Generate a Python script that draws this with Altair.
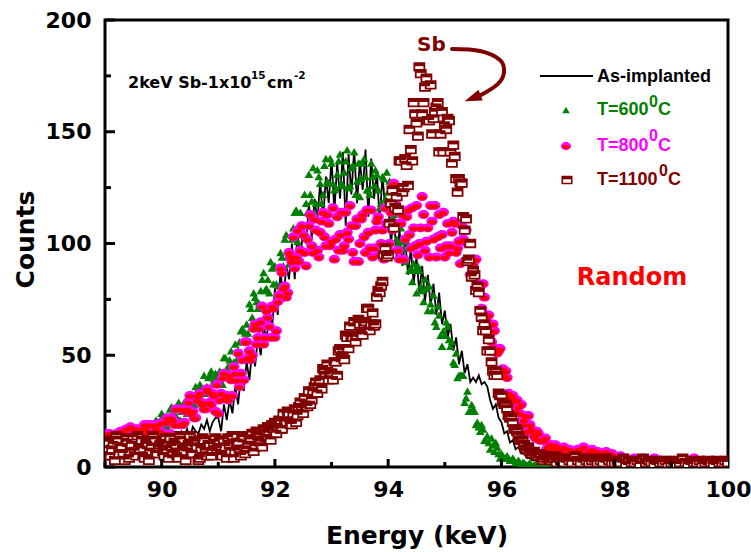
import altair as alt
import pandas as pd

# ---------------- data ----------------
energy = [
    89.00, 89.05, 89.10, 89.15, 89.20, 89.25, 89.30, 89.35, 89.40, 89.45, 89.50, 89.55, 89.60, 89.65, 89.70, 89.75, 89.80, 89.85, 89.90, 89.95,
    90.00, 90.05, 90.10, 90.15, 90.20, 90.25, 90.30, 90.35, 90.40, 90.45, 90.50, 90.55, 90.60, 90.65, 90.70, 90.75, 90.80, 90.85, 90.90, 90.95,
    91.00, 91.05, 91.10, 91.15, 91.20, 91.25, 91.30, 91.35, 91.40, 91.45, 91.50, 91.55, 91.60, 91.65, 91.70, 91.75, 91.80, 91.85, 91.90, 91.95,
    92.00, 92.05, 92.10, 92.15, 92.20, 92.25, 92.30, 92.35, 92.40, 92.45, 92.50, 92.55, 92.60, 92.65, 92.70, 92.75, 92.80, 92.85, 92.90, 92.95,
    93.00, 93.05, 93.10, 93.15, 93.20, 93.25, 93.30, 93.35, 93.40, 93.45, 93.50, 93.55, 93.60, 93.65, 93.70, 93.75, 93.80, 93.85, 93.90, 93.95,
    94.00, 94.05, 94.10, 94.15, 94.20, 94.25, 94.30, 94.35, 94.40, 94.45, 94.50, 94.55, 94.60, 94.65, 94.70, 94.75, 94.80, 94.85, 94.90, 94.95,
    95.00, 95.05, 95.10, 95.15, 95.20, 95.25, 95.30, 95.35, 95.40, 95.45, 95.50, 95.55, 95.60, 95.65, 95.70, 95.75, 95.80, 95.85, 95.90, 95.95,
    96.00, 96.05, 96.10, 96.15, 96.20, 96.25, 96.30, 96.35, 96.40, 96.45, 96.50, 96.55, 96.60, 96.65, 96.70, 96.75, 96.80, 96.85, 96.90, 96.95,
    97.00, 97.05, 97.10, 97.15, 97.20, 97.25, 97.30, 97.35, 97.40, 97.45, 97.50, 97.55, 97.60, 97.65, 97.70, 97.75, 97.80, 97.85, 97.90, 97.95,
    98.00, 98.05, 98.10, 98.15, 98.20, 98.25, 98.30, 98.35, 98.40, 98.45, 98.50, 98.55, 98.60, 98.65, 98.70, 98.75, 98.80, 98.85, 98.90, 98.95,
    99.00, 99.05, 99.10, 99.15, 99.20, 99.25, 99.30, 99.35, 99.40, 99.45, 99.50, 99.55, 99.60, 99.65, 99.70, 99.75, 99.80, 99.85, 99.90, 99.95,
    100.00,
]

# second, interleaved set of channels (the scatter series are denser than the line)
energy_mid = [
    89.025, 89.075, 89.125, 89.175, 89.225, 89.275, 89.325, 89.375, 89.425, 89.475, 89.525, 89.575, 89.625, 89.675, 89.725, 89.775, 89.825, 89.875, 89.925, 89.975,
    90.025, 90.075, 90.125, 90.175, 90.225, 90.275, 90.325, 90.375, 90.425, 90.475, 90.525, 90.575, 90.625, 90.675, 90.725, 90.775, 90.825, 90.875, 90.925, 90.975,
    91.025, 91.075, 91.125, 91.175, 91.225, 91.275, 91.325, 91.375, 91.425, 91.475, 91.525, 91.575, 91.625, 91.675, 91.725, 91.775, 91.825, 91.875, 91.925, 91.975,
    92.025, 92.075, 92.125, 92.175, 92.225, 92.275, 92.325, 92.375, 92.425, 92.475, 92.525, 92.575, 92.625, 92.675, 92.725, 92.775, 92.825, 92.875, 92.925, 92.975,
    93.025, 93.075, 93.125, 93.175, 93.225, 93.275, 93.325, 93.375, 93.425, 93.475, 93.525, 93.575, 93.625, 93.675, 93.725, 93.775, 93.825, 93.875, 93.925, 93.975,
    94.025, 94.075, 94.125, 94.175, 94.225, 94.275, 94.325, 94.375, 94.425, 94.475, 94.525, 94.575, 94.625, 94.675, 94.725, 94.775, 94.825, 94.875, 94.925, 94.975,
    95.025, 95.075, 95.125, 95.175, 95.225, 95.275, 95.325, 95.375, 95.425, 95.475, 95.525, 95.575, 95.625, 95.675, 95.725, 95.775, 95.825, 95.875, 95.925, 95.975,
    96.025, 96.075, 96.125, 96.175, 96.225, 96.275, 96.325, 96.375, 96.425, 96.475, 96.525, 96.575, 96.625, 96.675, 96.725, 96.775, 96.825, 96.875, 96.925, 96.975,
]

as_implanted = [
    6, 9, 5, 8, 7, 10, 6, 8, 9, 7, 8, 6, 10, 7, 9, 8, 11, 7, 9, 10,
    12, 9, 14, 11, 13, 15, 12, 16, 14, 17, 13, 18, 16, 15, 19, 17, 21, 16, 20, 22,
    22, 16, 28, 21, 30, 24, 36, 28, 41, 34, 47, 39, 53, 45, 58, 50, 64, 56, 70, 62,
    80, 68, 88, 74, 90, 84, 100, 84, 106, 92, 108, 100, 118, 102, 120, 110, 128, 110, 130, 118,
    138, 114, 136, 120, 141, 108, 140, 122, 142, 118, 137, 124, 142, 112, 138, 120, 132, 110, 131, 114,
    118, 100, 112, 94, 106, 90, 102, 86, 98, 82, 94, 78, 90, 74, 86, 72, 82, 68, 78, 64,
    70, 58, 64, 52, 58, 46, 52, 42, 46, 38, 40, 38, 41, 37, 38, 36, 30, 26, 28, 22,
    20, 15, 16, 11, 12, 8, 9, 6, 6, 4, 4, 3, 3, 2, 2, 2, 1, 2, 1, 1,
    1, 2, 1, 1, 2, 1, 0, 1, 2, 1, 1, 0, 1, 1, 2, 1, 0, 1, 1, 0,
    1, 1, 0, 2, 1, 1, 0, 1, 1, 2, 0, 1, 1, 0, 1, 2, 1, 0, 1, 1,
    0, 1, 1, 2, 1, 0, 1, 1, 0, 2, 1, 1, 0, 1, 1, 0, 2, 1, 1, 0,
    1,
]

t600 = [
    12, 8, 12, 14, 10, 9, 14, 12, 11, 16, 12, 15, 11, 17, 14, 18, 14, 17, 21, 17,
    24, 20, 18, 26, 24, 23, 29, 25, 29, 24, 32, 29, 36, 31, 36, 41, 36, 41, 37, 42,
    41, 38, 49, 44, 48, 41, 55, 52, 61, 56, 64, 73, 67, 76, 71, 79, 87, 80, 78, 89,
    90, 77, 96, 90, 104, 91, 102, 114, 101, 114, 104, 118, 131, 119, 114, 133, 127, 122, 138, 127,
    136, 124, 131, 140, 126, 137, 125, 134, 141, 128, 121, 136, 130, 124, 136, 126, 131, 116, 130, 120,
    123, 126, 113, 102, 110, 101, 92, 99, 89, 91, 78, 88, 79, 84, 70, 73, 77, 63, 68, 54,
    59, 63, 54, 47, 51, 41, 41, 29, 34, 25, 26, 19, 18, 19, 12, 14, 8, 10, 11, 6,
    6, 4, 5, 3, 4, 2, 3, 1, 2, 1, 2, 0, 1, 1, 0, 1, 1, 0, 1, 0,
    1, 0, 2, 1, 0, 1, 3, 1, 0, 1, 2, 0, 1, 1, 0, 2, 1, 0, 1, 1,
    0, 1, 1, 0, 2, 1, 0, 1, 0, 1, 1, 0, 2, 1, 0, 1, 0, 1, 1, 0,
    1, 0, 1, 2, 0, 1, 0, 1, 1, 0, 1, 0, 1, 2, 0, 1, 0, 1, 0, 1,
    1,
]
t600_mid = [
    7, 11, 14, 10, 9, 14, 11, 12, 16, 11, 14, 11, 16, 15, 18, 14, 14, 18, 20, 18,
    23, 19, 22, 27, 21, 26, 21, 28, 27, 32, 28, 28, 34, 37, 35, 33, 40, 43, 39, 39,
    43, 37, 49, 45, 52, 47, 48, 56, 62, 60, 60, 71, 78, 74, 73, 84, 79, 84, 92, 82,
    82, 81, 94, 102, 94, 91, 107, 115, 106, 105, 122, 114, 122, 134, 118, 130, 118, 135, 128, 138,
    127, 125, 137, 127, 132, 142, 126, 135, 122, 136, 129, 138, 124, 122, 130, 133, 124, 118, 129, 132,
    128, 111, 114, 100, 107, 98, 101, 88, 83, 88, 90, 81, 74, 80, 81, 70, 65, 72, 59, 61,
    65, 57, 56, 46, 40, 41, 41, 31, 25, 28, 25, 20, 16, 17, 12, 11, 13, 7, 9, 4,
    5, 4, 4, 3, 3, 2, 2, 2, 1, 1, 1, 1, 0, 1, 0, 1, 0, 1, 0, 0,
]

t800 = [
    15, 11, 14, 10, 15, 13, 16, 12, 14, 18, 13, 17, 13, 17, 19, 15, 13, 19, 17, 15,
    20, 15, 22, 15, 21, 26, 19, 26, 20, 26, 32, 25, 22, 32, 29, 26, 35, 29, 33, 25,
    24, 33, 42, 32, 41, 32, 42, 51, 42, 39, 56, 52, 50, 64, 58, 65, 55, 70, 63, 72,
    58, 74, 89, 80, 76, 96, 92, 89, 106, 97, 104, 90, 108, 99, 111, 97, 105, 114, 99, 109,
    101, 93, 112, 104, 97, 114, 102, 108, 92, 111, 100, 113, 96, 105, 115, 98, 110, 95, 106, 116,
    97, 114, 127, 109, 93, 113, 102, 115, 98, 107, 117, 100, 121, 97, 107, 117, 102, 94, 113, 104,
    94, 109, 99, 110, 96, 101, 108, 92, 100, 86, 91, 93, 80, 71, 76, 68, 60, 64, 53, 52,
    43, 41, 40, 31, 32, 25, 27, 28, 21, 16, 19, 16, 13, 15, 12, 12, 8, 10, 8, 10,
    8, 7, 9, 6, 8, 7, 6, 8, 7, 9, 6, 7, 8, 6, 7, 5, 6, 7, 5, 6,
    4, 3, 5, 3, 4, 2, 3, 4, 2, 3, 4, 3, 2, 3, 4, 2, 3, 2, 3, 2,
    2, 3, 2, 1, 3, 2, 2, 3, 4, 1, 2, 3, 2, 1, 2, 3, 2, 1, 2, 3,
    3,
]
t800_mid = [
    12, 15, 11, 14, 10, 16, 14, 17, 12, 13, 16, 17, 14, 13, 17, 19, 15, 15, 19, 16,
    13, 20, 13, 22, 19, 26, 19, 19, 25, 29, 24, 22, 30, 33, 28, 26, 34, 28, 32, 37,
    30, 40, 31, 30, 39, 45, 39, 36, 48, 56, 49, 48, 62, 55, 62, 72, 58, 67, 58, 71,
    61, 77, 87, 81, 78, 94, 103, 94, 92, 108, 96, 102, 113, 96, 106, 94, 110, 103, 113, 99,
    116, 102, 97, 114, 99, 105, 117, 96, 108, 92, 111, 103, 115, 98, 94, 106, 112, 100, 93, 109,
    100, 106, 118, 97, 109, 93, 112, 104, 116, 99, 95, 107, 113, 101, 94, 110, 117, 103, 98, 114,
    99, 96, 105, 109, 98, 91, 102, 106, 92, 85, 93, 82, 81, 82, 66, 68, 56, 61, 51, 53,
    44, 43, 33, 29, 30, 30, 24, 19, 23, 23, 17, 14, 16, 12, 12, 13, 9, 10, 6, 9,
]

t1100 = [
    8, 12, 5, 10, 14, 6, 9, 3, 11, 7, 13, 5, 9, 12, 4, 10, 7, 14, 6, 9,
    11, 5, 8, 13, 6, 10, 4, 12, 7, 9, 14, 6, 11, 3, 8, 12, 5, 10, 7, 13,
    9, 6, 12, 4, 10, 14, 7, 11, 5, 13, 8, 12, 15, 9, 14, 11, 17, 13, 16, 19,
    20, 18, 17, 24, 20, 24, 19, 26, 23, 29, 24, 28, 34, 30, 36, 33, 39, 44, 41, 39,
    42, 47, 41, 53, 50, 59, 53, 58, 65, 59, 64, 59, 65, 71, 64, 63, 76, 78, 83, 98,
    95, 118, 107, 121, 137, 123, 138, 126, 142, 163, 154, 179, 158, 170, 155, 171, 156, 161, 141, 159,
    153, 156, 141, 144, 129, 129, 127, 106, 92, 100, 88, 79, 78, 67, 64, 52, 52, 43, 43, 33,
    32, 28, 26, 22, 20, 17, 14, 12, 10, 8, 7, 6, 6, 5, 5, 4, 5, 3, 4, 5,
    4, 3, 2, 4, 3, 2, 5, 3, 2, 4, 3, 2, 3, 4, 2, 3, 2, 4, 3, 2,
    2, 3, 2, 4, 1, 3, 2, 2, 3, 1, 4, 2, 3, 2, 1, 3, 2, 2, 3, 1,
    2, 3, 1, 2, 4, 2, 1, 3, 2, 2, 3, 1, 2, 3, 2, 1, 3, 2, 2, 3,
    2,
]
t1100_mid = [
    5, 11, 8, 3, 12, 9, 6, 13, 4, 10, 7, 14, 8, 5, 11, 3, 9, 12, 6, 10,
    7, 13, 4, 9, 11, 5, 14, 8, 3, 10, 6, 12, 9, 4, 13, 7, 10, 5, 11, 8,
    12, 5, 9, 13, 7, 4, 11, 8, 14, 6, 10, 13, 7, 16, 12, 9, 15, 18, 12, 17,
    15, 21, 17, 20, 25, 19, 24, 20, 27, 26, 31, 27, 28, 34, 38, 36, 35, 43, 46, 42,
    39, 47, 52, 49, 48, 58, 63, 58, 56, 66, 60, 64, 71, 61, 69, 64, 79, 81, 95, 94,
    109, 124, 116, 115, 137, 125, 135, 151, 137, 158, 148, 176, 163, 174, 155, 149, 159, 163, 149, 141,
    151, 155, 136, 139, 123, 127, 112, 111, 93, 85, 86, 81, 70, 61, 61, 57, 47, 41, 41, 32,
    29, 28, 23, 22, 17, 16, 12, 12, 8, 9, 6, 7, 5, 6, 3, 5, 4, 3, 4, 2,
]

x_major = [90, 92, 94, 96, 98, 100]
x_minor = [89, 91, 93, 95, 97, 99]
y_major = [0, 50, 100, 150, 200]
y_minor = [25, 75, 125, 175]

# annotation arrow (data coordinates)
arrow_E = [95.127, 95.621, 95.974, 96.045, 95.939, 95.639]
arrow_C = [187.0, 186.1, 182.1, 176.7, 171.4, 166.4]

# legend entries
legend_labels = ["As-implanted", "T=600", "T=800", "T=1100"]
legend_colors = ["#000000", "#008000", "#FF00FF", "#800000"]

# ---------------- styling ----------------
W, H = 623, 447
BLACK, GREEN, MAGENTA, RED, DARKRED = "#000000", "#008000", "#FF00FF", "#FF0000", "#800000"
FONT = "DejaVu Sans"
LFONT = "Liberation Sans"

RECT = "M-1,-0.75L1,-0.75L1,0.75L-1,0.75Z"
RECT_TOP = "M-1,-0.75L1,-0.75L1,-0.15L-1,-0.15Z"
ELLIPSE = ("M-1,0 C-1,-0.45 -0.55,-0.8 0,-0.8 C0.55,-0.8 1,-0.45 1,0 "
           "C1,0.45 0.55,0.8 0,0.8 C-0.55,0.8 -1,0.45 -1,0 Z")
RED_CORE = ("M-0.75,0.2 C-0.75,-0.05 -0.41,-0.25 0,-0.25 C0.41,-0.25 0.75,-0.05 0.75,0.2 "
            "C0.75,0.45 0.41,0.65 0,0.65 C-0.41,0.65 -0.75,0.45 -0.75,0.2 Z")
ARROWHEAD = "M0,-1L0.65,0.9L-0.65,0.9Z"

xs = alt.Scale(domain=[89, 100], nice=False, zero=False)
ys = alt.Scale(domain=[0, 200], nice=False, zero=True)

x_axis = alt.Axis(values=x_major, title="Energy (keV)", format="d",
                  labelFont=FONT, labelFontWeight="bold", labelFontSize=22, labelColor=BLACK,
                  labelPadding=12, labelFlush=False, labelOverlap=False,
                  ticks=False, tickSize=0, domain=False, grid=False,
                  titleFont=FONT, titleFontWeight="bold", titleFontSize=25, titleColor=BLACK,
                  titleX=W / 2, titleY=76, titleAlign="center", titleBaseline="alphabetic")
y_axis = alt.Axis(values=y_major, title="Counts", format="d",
                  labelFont=FONT, labelFontWeight="bold", labelFontSize=22, labelColor=BLACK,
                  labelPadding=14, labelFlush=False, labelOverlap=False,
                  ticks=False, tickSize=0, domain=False, grid=False,
                  titleFont=FONT, titleFontWeight="bold", titleFontSize=25, titleColor=BLACK,
                  titleX=-72, titleY=219, titleAngle=270, titleAlign="center",
                  titleBaseline="alphabetic")

X = alt.X("E:Q", scale=xs, axis=x_axis)
Y = alt.Y("C:Q", scale=ys, axis=y_axis)


def frame(vals):
    return pd.DataFrame({"E": energy, "C": vals})


def dense(vals, mid_vals):
    return pd.concat([pd.DataFrame({"E": energy, "C": vals}),
                      pd.DataFrame({"E": energy_mid, "C": mid_vals})]).sort_values("E")


black_line = alt.Chart(frame(as_implanted)).mark_line(
    color=BLACK, strokeWidth=1.8, clip=True).encode(x=X, y=Y)

green_pts = alt.Chart(dense(t600, t600_mid)).mark_point(
    shape="triangle-up", filled=True, color=GREEN, size=75, opacity=1, clip=True).encode(x=X, y=Y)

d800 = dense(t800, t800_mid)
mag_pts = alt.Chart(d800).mark_point(
    shape=ELLIPSE, filled=True, color=MAGENTA, size=125, opacity=1, clip=True).encode(x=X, y=Y)
mag_core = alt.Chart(d800).mark_point(
    shape=RED_CORE, filled=True, color=RED, size=125, opacity=1, clip=True).encode(x=X, y=Y)

d1100 = dense(t1100, t1100_mid)
sq_pts = alt.Chart(d1100).mark_point(
    shape=RECT, filled=True, fill="white", stroke=DARKRED, strokeWidth=1.8,
    size=100, opacity=1, clip=True).encode(x=X, y=Y)
sq_top = alt.Chart(d1100).mark_point(
    shape=RECT_TOP, filled=True, color=DARKRED, size=100, opacity=1, clip=True).encode(x=X, y=Y)

# inward tick marks
ytick_major = alt.Chart(pd.DataFrame({"C": y_major})).mark_rule(
    color=BLACK, strokeWidth=3).encode(x=alt.value(0), x2=alt.value(10), y=Y)
ytick_minor = alt.Chart(pd.DataFrame({"C": y_minor})).mark_rule(
    color=BLACK, strokeWidth=3).encode(x=alt.value(0), x2=alt.value(6), y=Y)
xtick_major = alt.Chart(pd.DataFrame({"E": x_major[:-1]})).mark_rule(
    color=BLACK, strokeWidth=3).encode(x=X, y=alt.value(H), y2=alt.value(H - 8))
xtick_minor = alt.Chart(pd.DataFrame({"E": x_minor})).mark_rule(
    color=BLACK, strokeWidth=3).encode(x=X, y=alt.value(H), y2=alt.value(H - 5))


def note(e, c, txt, size, color, font=FONT):
    return alt.Chart(pd.DataFrame({"E": [e], "C": [c], "t": [txt]})).mark_text(
        align="left", baseline="middle", font=font, fontWeight="bold",
        fontSize=size, color=color).encode(x=X, y=Y, text="t:N")


dose_main = note(89.406, 171.8, "2keV Sb-1x10", 16, BLACK)
dose_sup1 = note(91.578, 174.8, "15", 10.5, BLACK)
dose_cm = note(91.860, 171.8, "cm", 16, BLACK)
dose_sup2 = note(92.337, 174.8, "-2", 10.5, BLACK)
sb_text = note(94.51, 188.8, "Sb", 20, DARKRED)
random_text = note(97.33, 84.6, "Random", 24, RED)

arrow_line = alt.Chart(pd.DataFrame({"E": arrow_E, "C": arrow_C, "i": list(range(len(arrow_E)))})).mark_line(
    color=DARKRED, strokeWidth=4, interpolate="cardinal", strokeCap="round").encode(
    x=X, y=Y, order="i:O")
arrow_head = alt.Chart(pd.DataFrame({"E": [95.498], "C": [165.1]})).mark_point(
    shape=ARROWHEAD, filled=True, color=DARKRED, size=324, angle=249, opacity=1).encode(x=X, y=Y)

# legend (pixel positions inside the plot area)
leg_txt = alt.Chart(pd.DataFrame({
    "px": [492, 492, 492, 492], "py": [57, 90, 126, 160],
    "t": legend_labels, "c": legend_colors})).mark_text(
    align="left", baseline="middle", font=LFONT, fontWeight="bold", fontSize=18).encode(
    x=alt.X("px:Q", scale=None, axis=None), y=alt.Y("py:Q", scale=None, axis=None),
    text="t:N", color=alt.Color("c:N", scale=None))
leg_sup = alt.Chart(pd.DataFrame({
    "px": [544, 544, 554], "py": [82, 116, 151], "t": ["0", "0", "0"],
    "c": legend_colors[1:]})).mark_text(
    align="left", baseline="middle", font=LFONT, fontWeight="bold", fontSize=16).encode(
    x=alt.X("px:Q", scale=None, axis=None), y=alt.Y("py:Q", scale=None, axis=None),
    text="t:N", color=alt.Color("c:N", scale=None))
leg_c = alt.Chart(pd.DataFrame({
    "px": [553, 553, 563], "py": [90, 126, 160], "t": ["C", "C", "C"],
    "c": legend_colors[1:]})).mark_text(
    align="left", baseline="middle", font=LFONT, fontWeight="bold", fontSize=18).encode(
    x=alt.X("px:Q", scale=None, axis=None), y=alt.Y("py:Q", scale=None, axis=None),
    text="t:N", color=alt.Color("c:N", scale=None))
leg_line = alt.Chart(pd.DataFrame({"a": [0]})).mark_rule(color=BLACK, strokeWidth=2).encode(
    x=alt.value(435), x2=alt.value(488), y=alt.value(56))
leg_tri = alt.Chart(pd.DataFrame({"a": [0]})).mark_point(
    shape="triangle-up", filled=True, color=GREEN, size=55, opacity=1).encode(
    x=alt.value(461), y=alt.value(90))
leg_mag = alt.Chart(pd.DataFrame({"a": [0]})).mark_point(
    shape=ELLIPSE, filled=True, color=MAGENTA, size=100, opacity=1).encode(
    x=alt.value(461), y=alt.value(126))
leg_magc = alt.Chart(pd.DataFrame({"a": [0]})).mark_point(
    shape=RED_CORE, filled=True, color=RED, size=100, opacity=1).encode(
    x=alt.value(461), y=alt.value(126))
leg_sq = alt.Chart(pd.DataFrame({"a": [0]})).mark_point(
    shape=RECT, filled=True, fill="white", stroke=DARKRED, strokeWidth=1.6, size=90, opacity=1).encode(
    x=alt.value(462), y=alt.value(160))
leg_sqt = alt.Chart(pd.DataFrame({"a": [0]})).mark_point(
    shape=RECT_TOP, filled=True, color=DARKRED, size=90, opacity=1).encode(
    x=alt.value(462), y=alt.value(160))

chart = alt.layer(
    black_line, green_pts, mag_pts, mag_core, sq_pts, sq_top,
    ytick_major, ytick_minor, xtick_major, xtick_minor,
    dose_main, dose_sup1, dose_cm, dose_sup2, sb_text, random_text,
    arrow_line, arrow_head,
    leg_line, leg_tri, leg_mag, leg_magc, leg_sq, leg_sqt, leg_txt, leg_sup, leg_c,
).properties(
    width=W, height=H,
    padding={"left": 105, "top": 20, "right": 23, "bottom": 85},
    autosize=alt.AutoSizeParams(type="none"),
    background="white",
).configure_view(stroke=BLACK, strokeWidth=3)

chart.save("out.html", embed_options={"renderer": "svg", "actions": False})
